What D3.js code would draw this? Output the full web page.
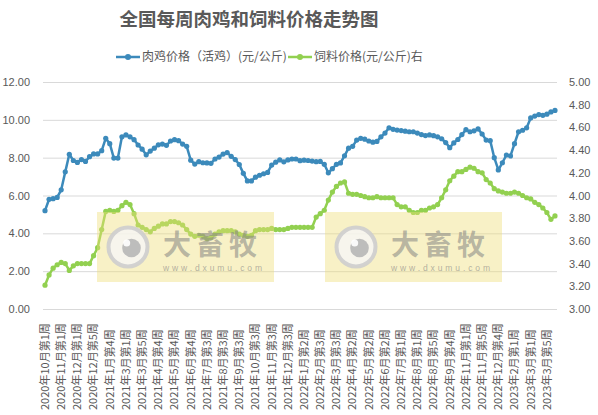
<!DOCTYPE html>
<html>
<head>
<meta charset="utf-8">
<script src="https://cdn.jsdelivr.net/npm/d3@7"></script>
<style>
  body { margin: 0; background: #fff; }
  text { font-family: "Liberation Sans", "Noto Sans CJK SC", sans-serif; }
  .cjk { font-family: "Noto Sans CJK SC", sans-serif; }
</style>
</head>
<body>
<svg id="chart" width="598" height="415"></svg>
<script>
// tick labels on the category axis, one every 4 weeks
var tickLabels = [
    '2020年10月第1周', '2020年11月第1周', '2020年12月第1周', '2020年12月第5周',
    '2021年1月第4周', '2021年3月第1周', '2021年3月第5周', '2021年4月第4周',
    '2021年5月第4周', '2021年6月第4周', '2021年7月第3周', '2021年8月第3周',
    '2021年9月第3周', '2021年10月第3周', '2021年11月第3周', '2021年12月第3周',
    '2022年1月第2周', '2022年2月第3周', '2022年3月第3周', '2022年4月第2周',
    '2022年5月第2周', '2022年6月第2周', '2022年7月第1周', '2022年8月第1周',
    '2022年8月第5周', '2022年9月第4周', '2022年11月第1周', '2022年11月第5周',
    '2022年12月第4周', '2023年2月第1周', '2023年3月第1周', '2023年3月第5周'
];

// 肉鸡价格（活鸡）(元/公斤), left axis
var chickenPrice = [
    5.20, 5.80, 5.83, 5.90, 6.30, 7.25, 8.18, 7.85, 7.75, 7.90,
    7.80, 8.05, 8.20, 8.20, 8.37, 9.02, 8.74, 7.98, 7.98, 9.10,
    9.20, 9.10, 8.95, 8.67, 8.45, 8.15, 8.35, 8.50, 8.68, 8.72,
    8.65, 8.88, 8.95, 8.90, 8.72, 8.60, 7.87, 7.66, 7.79, 7.73,
    7.72, 7.70, 7.93, 8.03, 8.19, 8.27, 8.07, 7.90, 7.64, 7.17,
    6.77, 6.77, 6.97, 7.07, 7.15, 7.22, 7.61, 7.76, 7.88, 7.78,
    7.88, 7.93, 7.93, 7.84, 7.87, 7.85, 7.82, 7.79, 7.80, 7.65,
    7.20, 7.42, 7.65, 7.72, 8.10, 8.50, 8.60, 8.93, 9.02, 8.98,
    8.88, 8.82, 8.86, 9.10, 9.30, 9.58, 9.50, 9.46, 9.43, 9.40,
    9.37, 9.37, 9.30, 9.22, 9.17, 9.20, 9.16, 9.10, 9.00, 8.80,
    8.53, 8.78, 8.96, 9.22, 9.48, 9.37, 9.42, 9.52, 9.25, 8.93,
    8.90, 8.00, 7.35, 7.73, 8.14, 8.09, 8.74, 9.37, 9.45, 9.58,
    10.10, 10.20, 10.28, 10.24, 10.30, 10.42, 10.50
];

// 饲料价格(元/公斤), right axis
var feedPrice = [
    3.21, 3.30, 3.36, 3.39, 3.41, 3.40, 3.34, 3.38, 3.40, 3.40,
    3.40, 3.40, 3.47, 3.54, 3.70, 3.86, 3.87, 3.86, 3.87, 3.91,
    3.94, 3.92, 3.84, 3.74, 3.72, 3.70, 3.68, 3.71, 3.73, 3.75,
    3.75, 3.77, 3.77, 3.76, 3.74, 3.70, 3.66, 3.64, 3.65, 3.64,
    3.62, 3.63, 3.66, 3.68, 3.69, 3.69, 3.69, 3.68, 3.66, 3.65,
    3.64, 3.65, 3.69, 3.70, 3.70, 3.70, 3.71, 3.70, 3.70, 3.70,
    3.71, 3.72, 3.72, 3.72, 3.72, 3.72, 3.72, 3.81, 3.84, 3.87,
    3.96, 4.03, 4.08, 4.11, 4.12, 4.02, 4.01, 4.01, 4.00, 3.99,
    3.98, 3.98, 3.99, 3.98, 3.98, 3.98, 3.98, 3.92, 3.90, 3.90,
    3.87, 3.85, 3.85, 3.87, 3.87, 3.89, 3.90, 3.92, 3.98, 4.05,
    4.13, 4.17, 4.21, 4.21, 4.23, 4.25, 4.24, 4.21, 4.20, 4.14,
    4.11, 4.06, 4.04, 4.03, 4.02, 4.02, 4.03, 4.02, 4.00, 3.98,
    3.97, 3.94, 3.92, 3.89, 3.85, 3.79, 3.82
];

var leftTicks = [0, 2, 4, 6, 8, 10, 12];
var rightTicks = [3.0, 3.2, 3.4, 3.6, 3.8, 4.0, 4.2, 4.4, 4.6, 4.8, 5.0];

var seriesNames = ['肉鸡价格（活鸡）(元/公斤)', '饲料价格(元/公斤)右'];
var seriesColors = ['#3c8abb', '#92d050'];

var plot = { left: 43, right: 557, top: 82, bottom: 309 },
    labelColor = '#595959',
    gridColor = '#d9d9d9';

var svg = d3.select('#chart');

var x = d3.scaleBand()
    .domain(d3.range(chickenPrice.length))
    .range([plot.left, plot.right]);
var cx = function(i) { return x(i) + x.bandwidth() / 2; };

var yLeft = d3.scaleLinear().domain([0, 12]).range([plot.bottom, plot.top]);
var yRight = d3.scaleLinear().domain([3, 5]).range([plot.bottom, plot.top]);

// TITLE
//
svg.append('text')
    .attr('class', 'cjk')
    .attr('x', 249).attr('y', 26)
    .attr('text-anchor', 'middle')
    .attr('font-size', 18.5).attr('font-weight', 'bold')
    .attr('fill', labelColor)
    .text('全国每周肉鸡和饲料价格走势图');

// LEGEND
//
var legend = svg.append('g').selectAll('g')
    .data(seriesNames)
    .enter().append('g')
    .attr('transform', function(d, i) { return 'translate(' + [116 + i * 172, 57] + ')'; });
legend.append('line')
    .attr('x2', 24)
    .attr('stroke', function(d, i) { return seriesColors[i]; })
    .attr('stroke-width', 2.5);
legend.append('circle')
    .attr('cx', 12).attr('r', 3)
    .attr('fill', function(d, i) { return seriesColors[i]; });
legend.append('text')
    .attr('class', 'cjk')
    .attr('x', 26).attr('dy', '0.36em')
    .attr('font-size', 12)
    .attr('fill', labelColor)
    .text(function(d) { return d; });

// GRID + AXES
//
var gridAxis = d3.axisLeft(yLeft)
    .tickValues(leftTicks)
    .tickSize(-(plot.right - plot.left))
    .tickPadding(13)
    .tickFormat(d3.format('.2f'));
var gLeft = svg.append('g')
    .attr('transform', 'translate(' + plot.left + ',0)')
    .call(gridAxis);
gLeft.select('.domain').remove();
gLeft.selectAll('line').attr('stroke', gridColor);
gLeft.selectAll('text').attr('font-size', 11).attr('fill', labelColor);

var gRight = svg.append('g')
    .attr('transform', 'translate(' + plot.right + ',0)')
    .call(d3.axisRight(yRight).tickValues(rightTicks).tickSize(0).tickPadding(12)
        .tickFormat(d3.format('.2f')));
gRight.select('.domain').remove();
gRight.selectAll('text').attr('font-size', 11).attr('fill', labelColor);

var tickIdx = tickLabels.map(function(d, i) { return i * 4; });
var gBottom = svg.append('g')
    .attr('transform', 'translate(0,' + plot.bottom + ')')
    .call(d3.axisBottom(x).tickValues(tickIdx).tickSize(0)
        .tickFormat(function(d) { return tickLabels[d / 4]; }));
gBottom.select('.domain').remove();
gBottom.selectAll('text')
    .attr('class', 'cjk')
    .attr('font-size', 11)
    .attr('fill', labelColor)
    .attr('text-anchor', 'start')
    .attr('transform', 'translate(0,101) rotate(-90)')
    .attr('x', 0).attr('y', 0).attr('dy', '0.35em');

// SERIES
//
function drawSeries(values, y, color) {
    var g = svg.append('g');
    g.append('path')
        .datum(values)
        .attr('fill', 'none')
        .attr('stroke', color)
        .attr('stroke-width', 2.5)
        .attr('stroke-linejoin', 'round')
        .attr('d', d3.line().x(function(d, i) { return cx(i); }).y(function(d) { return y(d); }));
    g.selectAll('circle')
        .data(values)
        .enter().append('circle')
        .attr('cx', function(d, i) { return cx(i); })
        .attr('cy', function(d) { return y(d); })
        .attr('r', 2.6)
        .attr('fill', color);
}
drawSeries(feedPrice, yRight, seriesColors[1]);
drawSeries(chickenPrice, yLeft, seriesColors[0]);

// WATERMARKS (sit on top of the lines)
//
[{ x: 97, y: 212 }, { x: 325, y: 212 }].forEach(function(p) {
    var w = svg.append('g').attr('transform', 'translate(' + p.x + ',' + p.y + ')');
    w.append('rect')
        .attr('width', 177).attr('height', 70)
        .attr('fill', 'rgb(238,222,120)').attr('fill-opacity', 0.42);
    w.append('circle')
        .attr('cx', 31).attr('cy', 35).attr('r', 19.5)
        .attr('fill', 'rgba(246,246,246,0.8)')
        .attr('stroke', 'rgba(205,205,205,0.9)').attr('stroke-width', 4);
    w.append('circle')
        .attr('cx', 34.5).attr('cy', 36).attr('r', 9.3)
        .attr('fill', 'rgba(185,185,185,0.95)');
    w.append('circle')
        .attr('cx', 29.7).attr('cy', 31).attr('r', 3.5)
        .attr('fill', 'rgba(255,255,255,0.9)');
    w.append('text')
        .attr('class', 'cjk')
        .attr('x', 66).attr('y', 43)
        .attr('font-size', 28).attr('font-weight', 'bold')
        .attr('letter-spacing', 5)
        .attr('fill', 'rgba(130,130,130,0.55)')
        .text('大畜牧');
    w.append('text')
        .attr('x', 66).attr('y', 58.5)
        .attr('font-size', 8.5).attr('letter-spacing', 2.9)
        .attr('fill', 'rgba(130,130,130,0.6)')
        .text('www.dxumu.com');
});
</script>
</body>
</html>
